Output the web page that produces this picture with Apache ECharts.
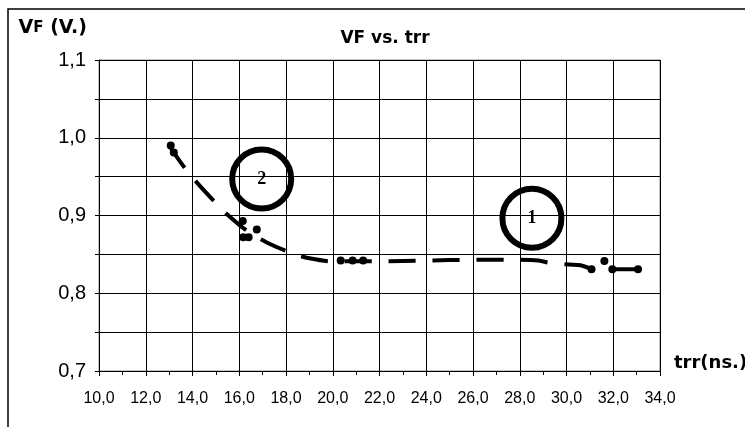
<!DOCTYPE html>
<html lang="en">
<head>
    <meta charset="UTF-8">
    <title>VF vs. trr</title>
    <script src="https://cdn.jsdelivr.net/npm/echarts@6/dist/echarts.min.js"></script>
    <style>
        html, body { margin: 0; padding: 0; background: #fff; }
    </style>
</head>
<body>
<div id="chartBox" style="width: 745px; height: 427px;"></div>
<script>
    // dashed curve (trr in ns, VF in V), null breaks the line
    var curveTrr = [13.0, 13.2, 13.7, 14.2, 15.0, 15.5, 16.3, 17.2, 18.3, 19.0, 20.0, 22.0, 24.0, 26.0, 28.0, 28.8, 29.3, 30.1, 30.6, 31.07, null, 31.96, 33.06];
    var curveVf  = [0.990, 0.981, 0.960, 0.942, 0.916, 0.901, 0.881, 0.865, 0.851, 0.845, 0.841, 0.841, 0.842, 0.843, 0.843, 0.842, 0.839, 0.837, 0.836, 0.831, null, 0.831, 0.831];

    // measured points (dots)
    var pointTrr = [13.07, 13.2, 16.15, 16.75, 16.17, 16.4, 20.34, 20.85, 21.3, 31.07, 31.62, 31.96, 33.06];
    var pointVf  = [0.990, 0.981, 0.893, 0.882, 0.872, 0.872, 0.842, 0.842, 0.842, 0.831, 0.8415, 0.831, 0.831];

    // circled labels
    var markNames = ['2', '1'];
    var markTrr = [16.96, 28.52];
    var markVf = [0.947, 0.8965];

    function pairs(xs, ys) {
        var res = [];
        for (var i = 0; i < xs.length; i++) {
            res.push(xs[i] === null ? [null, null] : [xs[i], ys[i]]);
        }
        return res;
    }

    var marks = [];
    for (var i = 0; i < markNames.length; i++) {
        marks.push({ name: markNames[i], value: [markTrr[i], markVf[i]] });
    }

    function comma(v) {
        return v.toFixed(1).replace('.', ',');
    }

    var chart = echarts.init(document.getElementById('chartBox'));

    var option = {
        animation: false,
        backgroundColor: '#fff',
        title: {
            text: 'VF vs. trr',
            left: 380,
            textAlign: 'center',
            top: 25,
            textStyle: { fontFamily: 'DejaVu Sans', fontWeight: 'bold', fontSize: 17, color: '#000' }
        },
        graphic: [{
            type: 'rect',
            shape: { x: 8, y: 9, width: 800, height: 500 },
            style: { fill: 'none', stroke: '#000', lineWidth: 1.5 },
            silent: true
        }],
        grid: {
            left: 99, right: 85, top: 60, bottom: 56,
            outerBoundsMode: 'none', containLabel: false,
            show: true, borderColor: '#888', borderWidth: 1
        },
        xAxis: {
            type: 'value',
            min: 10, max: 34, interval: 2,
            name: 'trr(ns.)',
            nameLocation: 'end',
            nameGap: 14,
            nameTextStyle: { fontFamily: 'DejaVu Sans', fontWeight: 'bold', fontSize: 18, color: '#000', align: 'left', verticalAlign: 'bottom', lineHeight: 16 },
            axisLine: { lineStyle: { color: '#000', width: 1 } },
            axisTick: { show: true, inside: false, length: 5, lineStyle: { color: '#000' } },
            minorTick: { show: true, splitNumber: 2, length: 4, lineStyle: { color: '#000' } },
            splitLine: { show: true, lineStyle: { color: '#000', width: 1 } },
            axisLabel: {
                margin: 20,
                fontFamily: 'Liberation Sans', fontSize: 16, color: '#000',
                formatter: function (v) { return comma(v); }
            }
        },
        yAxis: {
            type: 'value',
            min: 0.7, max: 1.1, interval: 0.05,
            name: '{v|V}{f|F}  {v|(V.)}',
            nameLocation: 'end',
            nameGap: 22,
            nameTextStyle: {
                align: 'right', padding: [0, 12, 0, 0],
                rich: {
                    v: { fontFamily: 'DejaVu Sans', fontWeight: 'bold', fontSize: 19, color: '#000' },
                    f: { fontFamily: 'DejaVu Sans', fontWeight: 'bold', fontSize: 15, color: '#000' }
                }
            },
            axisLine: { show: true, lineStyle: { color: '#000', width: 1 } },
            axisTick: { show: true, inside: false, length: 4, lineStyle: { color: '#000' } },
            splitLine: { show: true, lineStyle: { color: '#000', width: 1 } },
            axisLabel: {
                margin: 13,
                fontFamily: 'Liberation Sans', fontSize: 20, color: '#000',
                formatter: function (v) {
                    return Math.round(v * 100) % 10 === 0 ? comma(v) : '';
                }
            }
        },
        series: [
            {
                name: 'curve',
                type: 'line',
                data: pairs(curveTrr, curveVf),
                smooth: 0.3,
                connectNulls: false,
                showSymbol: false,
                lineStyle: { color: '#000', width: 4, type: [27, 17] },
                z: 3
            },
            {
                name: 'points',
                type: 'scatter',
                data: pairs(pointTrr, pointVf),
                symbol: 'circle',
                symbolSize: 8,
                itemStyle: { color: '#000', opacity: 1 },
                z: 4
            },
            {
                name: 'marks',
                type: 'scatter',
                data: marks,
                symbol: 'circle',
                symbolSize: 59,
                itemStyle: { color: 'rgba(255,255,255,0)', borderColor: '#000', borderWidth: 6, opacity: 1 },
                label: {
                    show: true, position: 'inside',
                    formatter: '{b}',
                    fontFamily: 'Liberation Serif', fontWeight: 'bold', fontSize: 18, color: '#000'
                },
                z: 5
            }
        ]
    };

    chart.setOption(option);
</script>
</body>
</html>
